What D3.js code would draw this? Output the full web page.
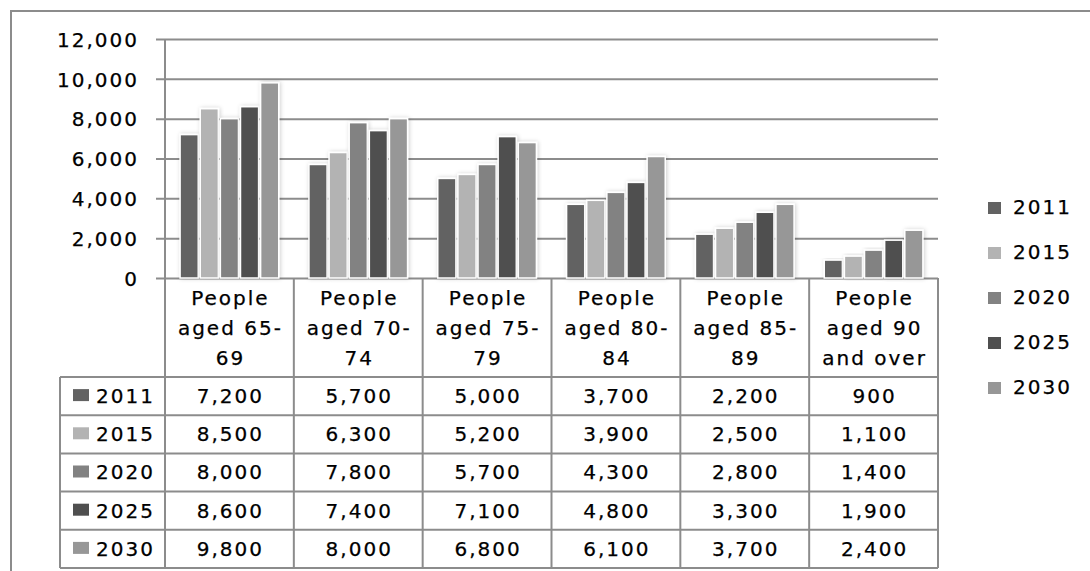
<!DOCTYPE html>
<html>
<head>
<meta charset="utf-8">
<script src="https://cdn.jsdelivr.net/npm/d3@7"></script>
<style>
	body { margin: 0; background: #fff; }
	text { font-family: "DejaVu Sans", Verdana, sans-serif; fill: #000; stroke: #000; stroke-width: 0.25px; }
</style>
</head>
<body>
<div id="chart"></div>
<script>
	'use strict';

	// data
	var categories = ['People aged 65-69', 'People aged 70-74', 'People aged 75-79',
		'People aged 80-84', 'People aged 85-89', 'People aged 90 and over'];
	var categoryLines = [
		['People', 'aged 65-', '69'],
		['People', 'aged 70-', '74'],
		['People', 'aged 75-', '79'],
		['People', 'aged 80-', '84'],
		['People', 'aged 85-', '89'],
		['People', 'aged 90', 'and over']
	];
	var years = ['2011', '2015', '2020', '2025', '2030'];
	var values2011 = [7200, 5700, 5000, 3700, 2200, 900];
	var values2015 = [8500, 6300, 5200, 3900, 2500, 1100];
	var values2020 = [8000, 7800, 5700, 4300, 2800, 1400];
	var values2025 = [8600, 7400, 7100, 4800, 3300, 1900];
	var values2030 = [9800, 8000, 6800, 6100, 3700, 2400];
	var yTicks = [0, 2000, 4000, 6000, 8000, 10000, 12000];

	var series = [values2011, values2015, values2020, values2025, values2030];
	var colors = ['#626262', '#b3b3b3', '#828282', '#4f4f4f', '#979797'];

	// 1. layout
	var width = 1090, height = 571;
	var plot = { left: 165, right: 938, top: 39, bottom: 278 };
	var tableLeft = 60, headerBottom = 377, rowH = 38.2;
	var lineColor = '#8c8c8c';
	var fontSize = 20, spacing = 2;

	var svg = d3.select('#chart').append('svg')
		.attr('width', width)
		.attr('height', height);

	var defs = svg.append('defs');
	var shadow = defs.append('filter').attr('id', 'shadow')
		.attr('x', '-30%').attr('y', '-10%').attr('width', '160%').attr('height', '120%');
	shadow.append('feDropShadow')
		.attr('dx', 1).attr('dy', 0)
		.attr('stdDeviation', 2)
		.attr('flood-color', '#000')
		.attr('flood-opacity', 0.2);

	// outer frame
	svg.append('path')
		.attr('d', 'M11,' + height + 'V11H' + width)
		.attr('fill', 'none')
		.attr('stroke', lineColor)
		.attr('stroke-width', 2);

	// 2. scales
	var x = d3.scaleBand()
		.domain(categories)
		.range([plot.left, plot.right])
		.padding(0);

	var xYear = d3.scaleBand()
		.domain(years)
		.range([0, x.bandwidth()])
		.paddingInner(0.1)
		.paddingOuter(0.75);

	var y = d3.scaleLinear()
		.domain([0, 12000])
		.range([plot.bottom, plot.top]);

	// 3. gridlines + y axis
	var yAxis = d3.axisLeft(y)
		.tickValues(yTicks)
		.tickSize(-(plot.right - plot.left))
		.tickPadding(0)
		.tickFormat(d3.format(','));

	var gy = svg.append('g')
		.attr('transform', 'translate(' + plot.left + ',0)')
		.call(yAxis);
	gy.select('.domain').remove();
	gy.selectAll('.tick line')
		.attr('x1', -9)
		.attr('stroke', lineColor)
		.attr('stroke-width', 2);
	gy.selectAll('.tick text')
		.attr('x', -26)
		.attr('dy', '0.36em')
		.style('font-size', fontSize + 'px')
		.style('letter-spacing', spacing + 'px')
		.style('font-family', '"DejaVu Sans", Verdana, sans-serif')
		.attr('fill', '#000');

	// 4. bars
	var groups = svg.append('g').selectAll('g')
		.data(series)
		.enter().append('g')
		.attr('fill', function (d, i) { return colors[i]; });

	groups.selectAll('rect')
		.data(function (d, i) {
			return d.map(function (v, j) { return { year: years[i], cat: categories[j], value: v }; });
		})
		.enter().append('rect')
		.attr('x', function (d) { return x(d.cat) + xYear(d.year); })
		.attr('y', function (d) { return y(d.value); })
		.attr('width', xYear.bandwidth())
		.attr('height', function (d) { return y(0) - y(d.value); })
		.attr('stroke', '#fff')
		.attr('stroke-width', 1.5)
		.attr('filter', 'url(#shadow)');

	// 5. data table
	var table = svg.append('g')
		.attr('stroke', lineColor)
		.attr('stroke-width', 2)
		.attr('fill', 'none');

	var tableBottom = headerBottom + rowH * years.length;

	// vertical dividers at each category edge
	var edges = categories.map(function (c) { return x(c); }).concat([plot.right]);
	table.selectAll('.vline')
		.data(edges)
		.enter().append('line')
		.attr('x1', function (d) { return d; })
		.attr('x2', function (d) { return d; })
		.attr('y1', function (d, i) { return i === 0 ? plot.top : plot.bottom; })
		.attr('y2', tableBottom);

	table.append('line')
		.attr('x1', tableLeft).attr('x2', tableLeft)
		.attr('y1', headerBottom).attr('y2', tableBottom);

	table.selectAll('.hline')
		.data(d3.range(years.length + 1))
		.enter().append('line')
		.attr('x1', tableLeft)
		.attr('x2', plot.right)
		.attr('y1', function (d) { return headerBottom + d * rowH; })
		.attr('y2', function (d) { return headerBottom + d * rowH; });

	// header labels
	var header = svg.append('g')
		.selectAll('text')
		.data(categories)
		.enter().append('text')
		.attr('text-anchor', 'middle')
		.style('font-size', fontSize + 'px')
		.style('letter-spacing', spacing + 'px');

	header.selectAll('tspan')
		.data(function (d, i) { return categoryLines[i].map(function (t) { return { t: t, cat: d }; }); })
		.enter().append('tspan')
		.attr('x', function (d) { return x(d.cat) + x.bandwidth() / 2 + spacing / 2; })
		.attr('y', function (d, i) { return 305 + i * 30; })
		.text(function (d) { return d.t; });

	// table rows
	var rows = svg.append('g').selectAll('g')
		.data(series)
		.enter().append('g')
		.attr('transform', function (d, i) { return 'translate(0,' + (headerBottom + i * rowH) + ')'; });

	rows.append('rect')
		.attr('x', 73)
		.attr('y', rowH / 2 - 7)
		.attr('width', 16)
		.attr('height', 12)
		.attr('fill', function (d, i) { return colors[i]; });

	rows.append('text')
		.attr('x', 96)
		.attr('y', rowH / 2 + 7)
		.style('font-size', fontSize + 'px')
		.style('letter-spacing', spacing + 'px')
		.text(function (d, i) { return years[i]; });

	rows.selectAll('.val')
		.data(function (d) { return d; })
		.enter().append('text')
		.attr('class', 'val')
		.attr('text-anchor', 'middle')
		.attr('x', function (d, j) { return x(categories[j]) + x.bandwidth() / 2 + spacing / 2; })
		.attr('y', rowH / 2 + 7)
		.style('font-size', fontSize + 'px')
		.style('letter-spacing', spacing + 'px')
		.text(function (d) { return d3.format(',')(d); });

	// 6. legend on the right
	var legend = svg.append('g').selectAll('g')
		.data(years)
		.enter().append('g')
		.attr('transform', function (d, i) { return 'translate(988,' + (202 + i * 45) + ')'; });

	legend.append('rect')
		.attr('width', 13)
		.attr('height', 12)
		.attr('fill', function (d, i) { return colors[i]; });

	legend.append('text')
		.attr('x', 25)
		.attr('y', 12)
		.style('font-size', fontSize + 'px')
		.style('letter-spacing', spacing + 'px')
		.text(function (d) { return d; });
</script>
</body>
</html>
